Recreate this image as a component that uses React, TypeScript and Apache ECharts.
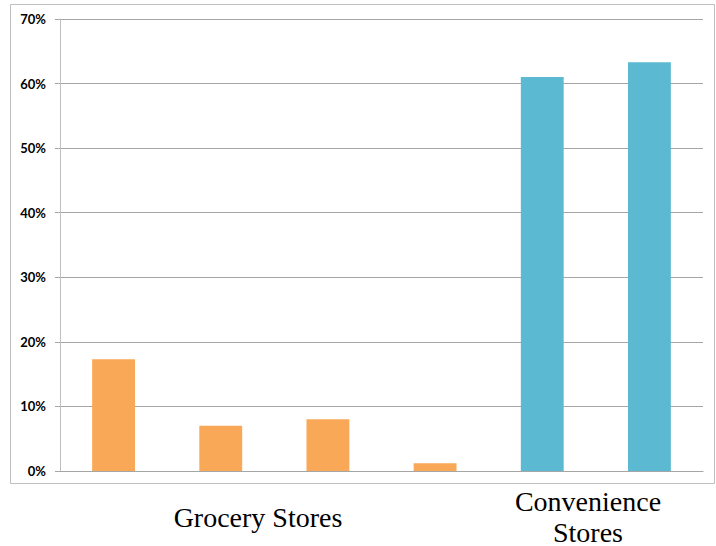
import React, { useEffect, useRef } from "react";
import * as echarts from "echarts";

// Share of stores per outlet, grouped by store type
const storeSlots = ["g1", "g2", "g3", "g4", "c1", "c2"];
const storeGroup = ["grocery", "grocery", "grocery", "grocery", "convenience", "convenience"];
const shareValues = [17.3, 7.0, 8.0, 1.2, 61.0, 63.3];
const yTicks = [0, 10, 20, 30, 40, 50, 60, 70];
const groupColors: Record<string, string> = {
  grocery: "#F9A857",
  convenience: "#5BB9D2",
};

const serif = "'Liberation Serif', 'DejaVu Serif', serif";

export default function App() {
  const ref = useRef<HTMLDivElement>(null);

  useEffect(() => {
    if (!ref.current) return;
    const chart = echarts.init(ref.current, null, { renderer: "svg" });
    chart.setOption({
      animation: false,
      backgroundColor: "#ffffff",
      grid: { left: 60, right: 13, top: 19, bottom: 75, containLabel: false },
      xAxis: {
        type: "category",
        data: storeSlots,
        axisLine: { show: true, lineStyle: { color: "#A6A6A6", width: 1 } },
        axisTick: { show: false },
        axisLabel: { show: false },
      },
      yAxis: {
        type: "value",
        min: yTicks[0],
        max: yTicks[yTicks.length - 1],
        interval: 10,
        axisLine: { show: true, lineStyle: { color: "#BFBFBF", width: 1 } },
        axisTick: { show: true, length: 5, lineStyle: { color: "#A6A6A6" } },
        splitLine: { show: true, lineStyle: { color: "#A6A6A6", width: 1 } },
        axisLabel: {
          margin: 14,
          formatter: (v: number) => `${v}%`,
          fontFamily: "Lato, 'Liberation Sans', sans-serif",
          fontWeight: "bold",
          fontSize: 13,
          color: "#000000",
        },
      },
      series: [
        {
          type: "bar",
          barWidth: "40%",
          data: shareValues.map((v, i) => ({
            value: v,
            itemStyle: { color: groupColors[storeGroup[i]] },
          })),
        },
      ],
      graphic: [
        {
          type: "rect",
          shape: { x: 10.5, y: 4.5, width: 704, height: 479 },
          style: { fill: "none", stroke: "#BFBFBF", lineWidth: 1 },
          silent: true,
        },
        {
          type: "text",
          x: 258,
          y: 517,
          style: {
            text: "Grocery Stores",
            fontFamily: serif,
            fontSize: 28,
            fill: "#000000",
            align: "center",
            verticalAlign: "middle",
          },
        },
        {
          type: "text",
          x: 588,
          y: 501,
          style: {
            text: "Convenience",
            fontFamily: serif,
            fontSize: 28,
            fill: "#000000",
            align: "center",
            verticalAlign: "middle",
          },
        },
        {
          type: "text",
          x: 588,
          y: 532,
          style: {
            text: "Stores",
            fontFamily: serif,
            fontSize: 28,
            fill: "#000000",
            align: "center",
            verticalAlign: "middle",
          },
        },
      ],
    });
    return () => chart.dispose();
  }, []);

  return (
    <div
      ref={ref}
      style={{ position: "absolute", left: 0, top: 0, width: 716, height: 546 }}
    />
  );
}
